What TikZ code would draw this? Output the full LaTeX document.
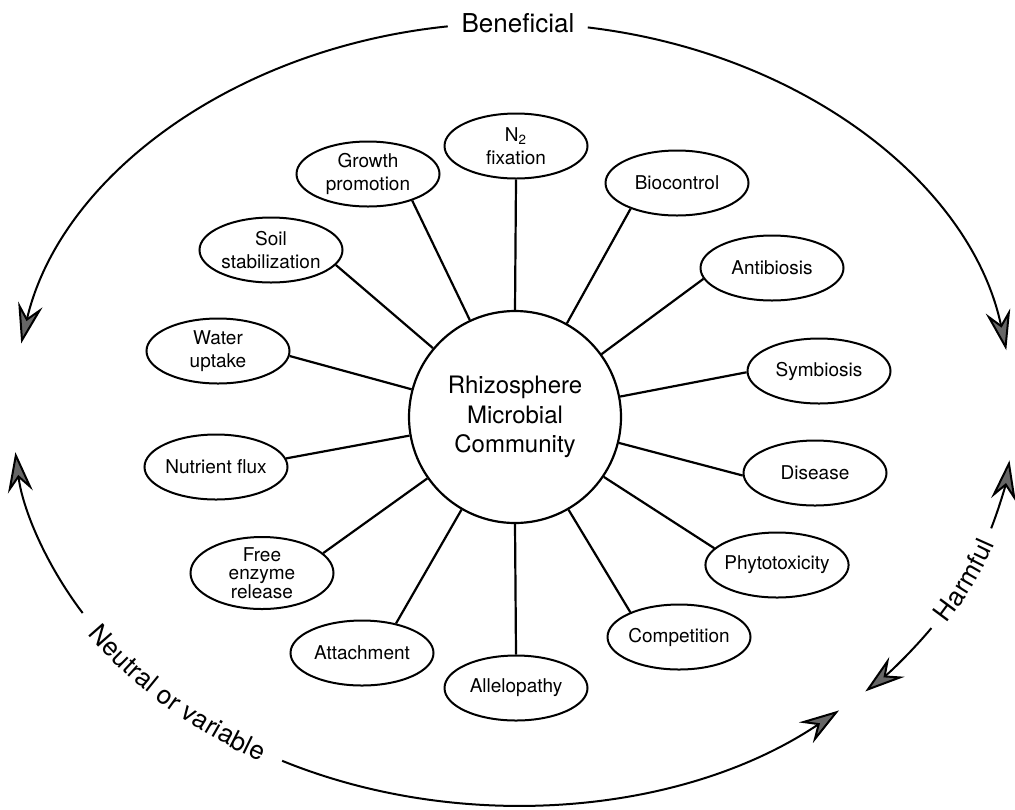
\documentclass[tikz,border=0pt]{standalone}
\usepackage{fontspec}
\setmainfont{TeX Gyre Heros}
\usetikzlibrary{arrows.meta,decorations.text,shapes.geometric,calc}
\newcommand\labfont{\fontsize{13}{15}\selectfont}
\tikzset{
  bub/.style={ellipse, draw, line width=1pt, minimum width=71.5pt, minimum height=32.5pt,
    inner xsep=-1pt, inner ysep=0pt, align=center, font=\fontsize{9.5}{11.3}\selectfont},
  hub/.style={circle, draw, line width=1.1pt, minimum size=106pt, inner sep=0pt,
    align=center, font=\fontsize{12}{14.6}\selectfont},
  spoke/.style={line width=1.1pt},
  ringhead/.tip={Stealth[length=20pt,width=12.5pt,inset=7pt,fill=black!60]},
  ringarrow/.style={line width=1pt, -ringhead},
  lab/.style={font=\labfont, inner sep=0pt},
  ringtext/.style={decorate, decoration={text along path, text align=center, raise=-4.5pt}},
}
\begin{document}
\begin{tikzpicture}[x=0.5pt,y=-0.5pt]
\useasboundingbox (0,0) rectangle (1015,809);

% centre
\node[hub] (c) at (515,417) {Rhizosphere\\Microbial\\Community};

% satellites
\node[bub] (n2) at (516,146) {N\textsubscript{2}\\fixation};
\node[bub] (gp) at (368,174) {Growth\\promotion};
\node[bub] (bc) at (677,183) {Biocontrol};
\node[bub] (ss) at (271,250) {Soil\\stabilization};
\node[bub] (ab) at (772,268) {Antibiosis};
\node[bub] (wu) at (218,351) {Water\\uptake};
\node[bub] (sy) at (819,371) {Symbiosis};
\node[bub] (nf) at (216,467) {Nutrient flux};
\node[bub] (di) at (815,473) {Disease};
\node[bub, minimum height=36pt, inner ysep=-1.5pt, font=\fontsize{9.5}{9.3}\selectfont] (fe) at (262,573) {Free\\enzyme\\release};
\node[bub] (ph) at (777,565) {Phytotoxicity};
\node[bub] (at) at (362,653) {Attachment};
\node[bub] (co) at (679,637) {Competition};
\node[bub] (al) at (516,688) {Allelopathy};

% spokes
\draw[spoke] (c.90) -- (n2.270);
\draw[spoke] (c.115) -- (gp.-31);
\draw[spoke] (c.140) -- (ss.-13);
\draw[spoke] (c.165) -- (wu.-4);
\draw[spoke] (c.190) -- (nf.7);
\draw[spoke] (c.215) -- (fe.18);
\draw[spoke] (c.240) -- (at.41);
\draw[spoke] (c.270) -- (al.90);
\draw[spoke] (c.300) -- (co.153);
\draw[spoke] (c.326) -- (ph.165);
\draw[spoke] (c.-14) -- (di.182);
\draw[spoke] (c.11) -- (sy.181);
\draw[spoke] (c.36) -- (ab.189);
\draw[spoke] (c.61) -- (bc.209);

% outer ring
\coordinate (O) at (513,414);
\node[lab] (ben) at (518,23) {Beneficial};
\draw[ringarrow] ($(O)+(262.5:500 and 391)$) arc[start angle=262.5, end angle=190.4, x radius=500, y radius=391];
\draw[ringarrow] ($(O)+(278.6:500 and 391)$) arc[start angle=278.6, end angle=350.6, x radius=500, y radius=391];

\draw[ringarrow] ($(O)+(149.4:500 and 391)$) arc[start angle=149.4, end angle=174.4, x radius=500, y radius=391];
\draw[ringarrow] ($(O)+(117.5:500 and 391)$) arc[start angle=117.5, end angle=49.3, x radius=500, y radius=391];
\path[ringtext, decoration={text={|\labfont|Neutral or variable}}]
  ($(O)+(149.4:500 and 391)$) arc[start angle=149.4, end angle=117.5, x radius=500, y radius=391];

\draw[ringarrow] ($(O)+(17:500 and 391)$) arc[start angle=17, end angle=6.8, x radius=500, y radius=391];
\draw[ringarrow] ($(O)+(33.2:500 and 391)$) arc[start angle=33.2, end angle=45.2, x radius=500, y radius=391];
\path[ringtext, decoration={text={|\labfont|Harmful}}]
  ($(O)+(33.2:500 and 391)$) arc[start angle=33.2, end angle=17, x radius=500, y radius=391];
\end{tikzpicture}
\end{document}
